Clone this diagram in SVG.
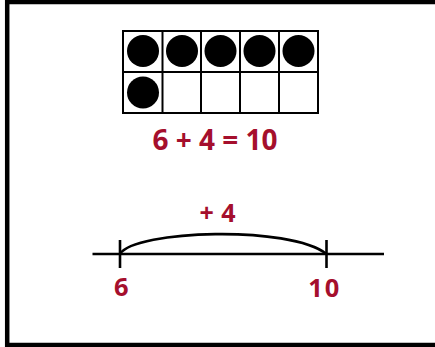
<svg xmlns="http://www.w3.org/2000/svg" width="435" height="347" viewBox="0 0 435 347">
<style>
.lbl{font-family:"Open Sans","Liberation Sans",sans-serif;font-weight:bold;fill:#A50F2D;text-anchor:middle}
.cell{fill:#fff;stroke:#000;stroke-width:2}
.dot{fill:#000}
.ln{stroke:#000;stroke-width:2.6;fill:none}
</style>
<rect width="435" height="347" fill="#fff"/>
<rect x="7.2" y="2" width="440" height="343" fill="none" stroke="#000" stroke-width="4.5"/>
<g id="ten-frame">
<rect class="cell" x="123" y="31" width="195" height="82"/>
<line x1="123" y1="72" x2="318" y2="72" stroke="#000" stroke-width="2"/>
<line x1="162.5" y1="31" x2="162.5" y2="113" stroke="#000" stroke-width="2"/>
<line x1="201" y1="31" x2="201" y2="113" stroke="#000" stroke-width="2"/>
<line x1="240" y1="31" x2="240" y2="113" stroke="#000" stroke-width="2"/>
<line x1="279" y1="31" x2="279" y2="113" stroke="#000" stroke-width="2"/>
<circle class="dot" cx="143" cy="51" r="16"/>
<circle class="dot" cx="182" cy="51" r="16"/>
<circle class="dot" cx="220.5" cy="51" r="16"/>
<circle class="dot" cx="259.5" cy="51" r="16"/>
<circle class="dot" cx="298.5" cy="51" r="16"/>
<circle class="dot" cx="143" cy="92.5" r="16"/>
</g>
<g id="equation"><text class="lbl" x="215" y="150" font-size="28">6 + 4 = 10</text></g>
<g id="number-line">
<line class="ln" x1="92.5" y1="254" x2="384" y2="254"/>
<line class="ln" x1="120" y1="240" x2="120" y2="268"/>
<line class="ln" x1="326.5" y1="240" x2="326.5" y2="268"/>
</g>
<g id="connectors">
<path class="ln" d="M120,254 C135,230 290,225 326.5,254"/>
</g>
<g id="jump-label"><text class="lbl" x="217.5" y="222" font-size="25" textLength="36" lengthAdjust="spacing">+ 4</text></g>
<g id="start-label"><text class="lbl" x="121.2" y="296" font-size="25.5">6</text></g>
<g id="end-label"><text class="lbl" x="323.8" y="296.5" font-size="25.5" textLength="31" lengthAdjust="spacing">10</text></g>
</svg>
